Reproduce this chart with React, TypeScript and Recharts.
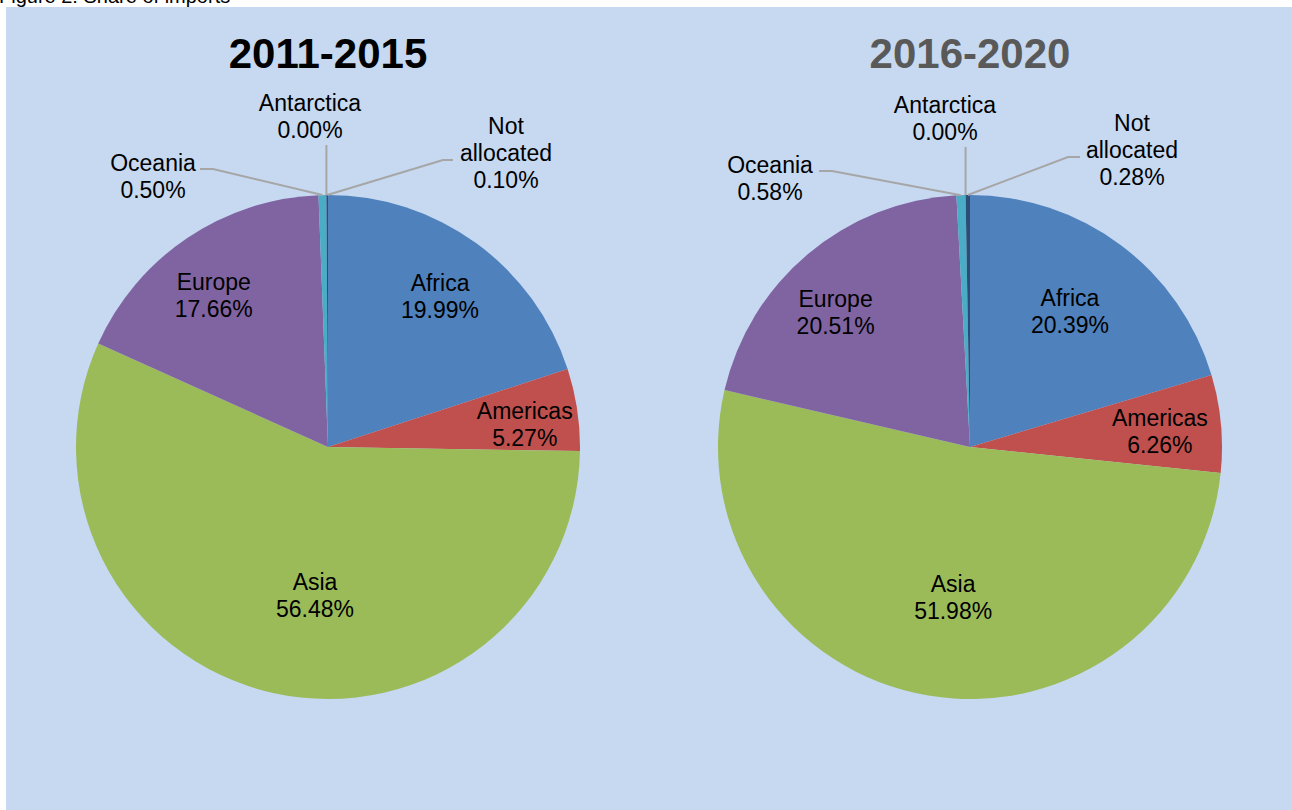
import React from "react";
import { PieChart, Pie, Cell } from "recharts";

const categories = ["Africa", "Americas", "Asia", "Europe", "Oceania", "Antarctica", "Not allocated"];
const share2011 = [19.99, 5.27, 56.48, 17.66, 0.5, 0, 0.1];
const share2016 = [20.39, 6.26, 51.98, 20.51, 0.58, 0, 0.28];
const periods = ["2011-2015", "2016-2020"];

const COLORS = ["#4f81bd", "#c0504d", "#9bbb59", "#8064a2", "#4bacc6", "#f79646", "#2c4d75"];
const RADIAN = Math.PI / 180;
const FONT = "'Liberation Sans', Arial, sans-serif";
const LINE_H = 27;

// label placement (excel "best fit" look), inside: radius fraction + angle nudge
type Inside = { kind: "in"; r: number; dA: number };
// outside: label centre offset from pie centre, elbow + tail for leader line
type Outside = { kind: "out"; lx: number; ly: number; ex: number | null; ey: number; tail: number };
type Place = Inside | Outside;

const placeLeft: Place[] = [
  { kind: "in", r: 0.746, dA: -0.6 },
  { kind: "in", r: 0.786, dA: -1.9 },
  { kind: "in", r: 0.59, dA: 7.6 },
  { kind: "in", r: 0.754, dA: 3 },
  { kind: "out", lx: -175, ly: -271, ex: -115, ey: -278, tail: -13 },
  { kind: "out", lx: -18, ly: -331, ex: null, ey: -302, tail: 0 },
  { kind: "out", lx: 178, ly: -294, ex: 115, ey: -287, tail: 10 },
];
const placeRight: Place[] = [
  { kind: "in", r: 0.667, dA: 0.2 },
  { kind: "in", r: 0.756, dA: -0.8 },
  { kind: "in", r: 0.6, dA: 3.1 },
  { kind: "in", r: 0.754, dA: 5 },
  { kind: "out", lx: -200, ly: -269, ex: -138, ey: -276, tail: -13 },
  { kind: "out", lx: -25, ly: -329, ex: null, ey: -300, tail: 0 },
  { kind: "out", lx: 162, ly: -297, ex: 98, ey: -290, tail: 12 },
];

const toData = (vals: number[]) => categories.map((name, i) => ({ name, value: vals[i] }));

function makeLabel(places: Place[]) {
  return (props: any) => {
    const { cx, cy, midAngle, outerRadius, index, name, value } = props;
    const p = places[index];
    if (!p) return null;
    const pct = `${Number(value).toFixed(2)}%`;
    if (p.kind === "in") {
      const a = (midAngle + p.dA) * RADIAN;
      const x = cx + outerRadius * p.r * Math.cos(-a);
      const y = cy + outerRadius * p.r * Math.sin(-a);
      return (
        <g key={`l-${index}`}>
          {[name, pct].map((t, k) => (
            <text key={k} x={x} y={y + (k - 0.5) * LINE_H} textAnchor="middle" dominantBaseline="central"
              fontFamily={FONT} fontSize={23} fill="#000">{t}</text>
          ))}
        </g>
      );
    }
    const sx = cx + outerRadius * Math.cos(-midAngle * RADIAN);
    const sy = cy + outerRadius * Math.sin(-midAngle * RADIAN);
    const ex = p.ex === null ? sx : cx + p.ex;
    const ey = cy + p.ey;
    const lines = [...String(name).split(" "), pct];
    const lx = cx + p.lx;
    const ly = cy + p.ly;
    return (
      <g key={`l-${index}`}>
        <polyline points={`${sx},${sy} ${ex},${ey} ${ex + p.tail},${ey}`} fill="none" stroke="#a6a6a6" strokeWidth={2} />
        {lines.map((t, k) => (
          <text key={k} x={lx} y={ly + (k - (lines.length - 1) / 2) * LINE_H} textAnchor="middle" dominantBaseline="central"
            fontFamily={FONT} fontSize={23} fill="#000">{t}</text>
        ))}
      </g>
    );
  };
}

export default function App() {
  return (
    <div style={{ position: "fixed", left: 0, top: 0, width: 1292, height: 810, background: "#fff", overflow: "hidden", fontFamily: FONT }}>
      <div style={{ position: "absolute", left: -1, top: -14, fontSize: 20, lineHeight: "20px", color: "#000", whiteSpace: "nowrap" }}>
        Figure 2: Share of imports
      </div>
      <div style={{ position: "absolute", left: 6, top: 7, width: 1286, height: 803, background: "#c6d9f1" }}>
        <PieChart width={1286} height={803} margin={{ top: 0, right: 0, bottom: 0, left: 0 }}>
          <Pie data={toData(share2011)} dataKey="value" nameKey="name" cx={322} cy={440} outerRadius={252}
            startAngle={90} endAngle={-270} stroke="none" isAnimationActive={false}
            labelLine={false} label={makeLabel(placeLeft)}>
            {categories.map((c, i) => <Cell key={c} fill={COLORS[i]} />)}
          </Pie>
          <Pie data={toData(share2016)} dataKey="value" nameKey="name" cx={964} cy={440} outerRadius={252}
            startAngle={90} endAngle={-270} stroke="none" isAnimationActive={false}
            labelLine={false} label={makeLabel(placeRight)}>
            {categories.map((c, i) => <Cell key={c} fill={COLORS[i]} />)}
          </Pie>
        </PieChart>
        <div style={{ position: "absolute", left: 122, top: 26, width: 400, textAlign: "center", fontSize: 42, lineHeight: "42px", fontWeight: "bold", color: "#000" }}>
          {periods[0]}
        </div>
        <div style={{ position: "absolute", left: 764, top: 26, width: 400, textAlign: "center", fontSize: 42, lineHeight: "42px", fontWeight: "bold", color: "#595959" }}>
          {periods[1]}
        </div>
      </div>
    </div>
  );
}
